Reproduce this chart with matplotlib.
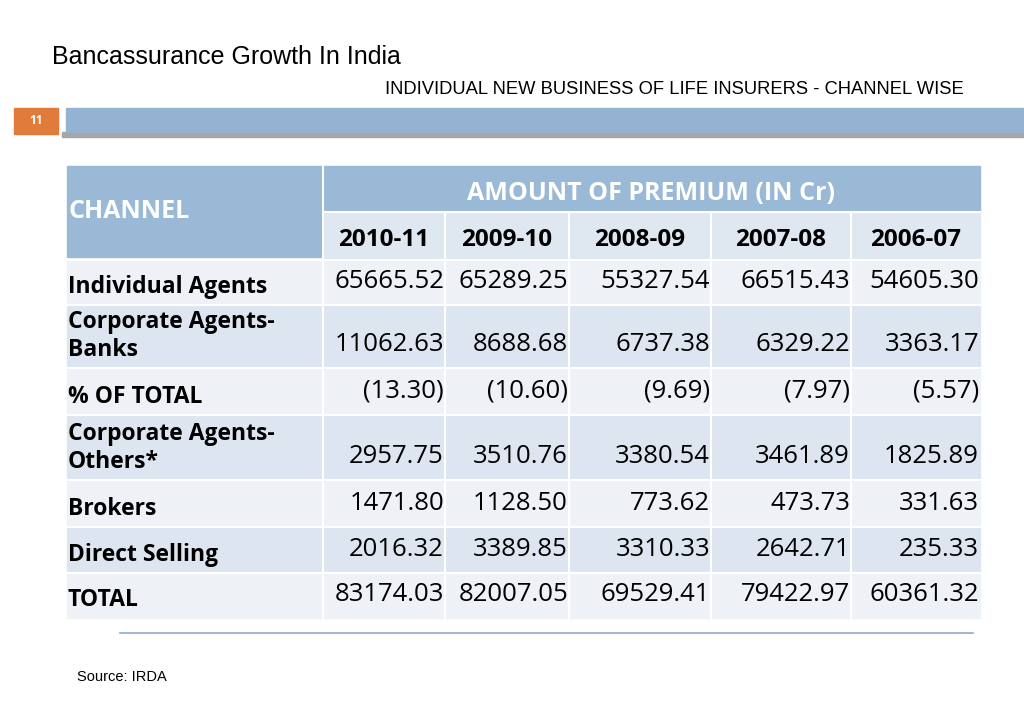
import matplotlib
matplotlib.use("Agg")
import matplotlib.pyplot as plt
from matplotlib.patches import Rectangle

years = ["2010-11", "2009-10", "2008-09", "2007-08", "2006-07"]
channels = ["Individual Agents", "Corporate Agents-\nBanks", "% OF TOTAL",
            "Corporate Agents-\nOthers*", "Brokers", "Direct Selling", "TOTAL"]
values = [
    ["65665.52", "65289.25", "55327.54", "66515.43", "54605.30"],
    ["11062.63", "8688.68", "6737.38", "6329.22", "3363.17"],
    ["(13.30)", "(10.60)", "(9.69)", "(7.97)", "(5.57)"],
    ["2957.75", "3510.76", "3380.54", "3461.89", "1825.89"],
    ["1471.80", "1128.50", "773.62", "473.73", "331.63"],
    ["2016.32", "3389.85", "3310.33", "2642.71", "235.33"],
    ["83174.03", "82007.05", "69529.41", "79422.97", "60361.32"],
]

fig = plt.figure(figsize=(10.24, 7.08), dpi=100)
ax = fig.add_axes([0, 0, 1, 1])
ax.set_xlim(0, 1024); ax.set_ylim(708, 0); ax.axis("off")
F = "Open Sans"

ax.text(52, 57, "Bancassurance Growth In India", fontsize=18, family="Liberation Sans", va="center")
ax.text(385, 89, "INDIVIDUAL NEW BUSINESS OF LIFE INSURERS - CHANNEL WISE", fontsize=13.2,
        family="Liberation Sans", va="center")
# header bar
ax.add_patch(Rectangle((62, 132), 962, 5, color="#a6a6a6"))
ax.add_patch(Rectangle((66, 108), 958, 24, color="#94b3d2"))
ax.add_patch(Rectangle((14, 108), 44, 26, color="#e07b3c"))
ax.text(36, 121, "11", color="white", fontsize=8.5, fontweight="bold", ha="center", va="center", family=F)

cols = [67, 323, 445, 569, 711, 851, 980]
hdr = "#9ab9d7"
ax.add_patch(Rectangle((67, 166), 256, 91, color=hdr))
ax.add_patch(Rectangle((323, 166), 657, 46, color=hdr))
ax.add_patch(Rectangle((323, 212), 657, 48, color="#dfe7f0"))
ax.text(68, 212, "CHANNEL", color="white", fontsize=18, fontweight="bold", va="center", family=F)
ax.text(651, 194, "AMOUNT OF PREMIUM (IN Cr)", color="white", fontsize=18,
        fontweight="bold", ha="center", va="center", family=F)
for i, y in enumerate(years):
    ax.text((cols[i+1] + cols[i+2]) / 2, 240, y, fontsize=17.5, fontweight="bold",
            ha="center", va="center", family=F)

rows = [260, 305, 368, 415, 480, 527, 573, 618]
for r in range(len(channels)):
    c = "#eef2f7" if r % 2 == 0 else "#dde6f0"
    ax.add_patch(Rectangle((67, rows[r]), 913, rows[r+1] - rows[r], color=c))
    yb = rows[r+1] - 12
    ax.text(68, yb, channels[r], fontsize=16.5, fontweight="bold", va="baseline",
            family=F, linespacing=1.25)
    for i, v in enumerate(values[r]):
        ax.text(cols[i+2] - 1, yb - 5, v, fontsize=18.5, ha="right", va="baseline", family=F)
# white grid
for x in cols[1:-1]:
    ax.plot([x, x], [212 if x > 323 else 166, 618], color="white", lw=1.5)
for y in rows[1:-1] + [212, 260]:
    ax.plot([323 if y == 212 else 67, 980], [y, y], color="white", lw=1.5)
ax.plot([120, 973], [633, 633], color="#8eaacb", lw=1.2)
ax.text(77, 677, "Source: IRDA", fontsize=10.5, family="Liberation Sans", va="center")

fig.savefig("out.png", dpi=100)
